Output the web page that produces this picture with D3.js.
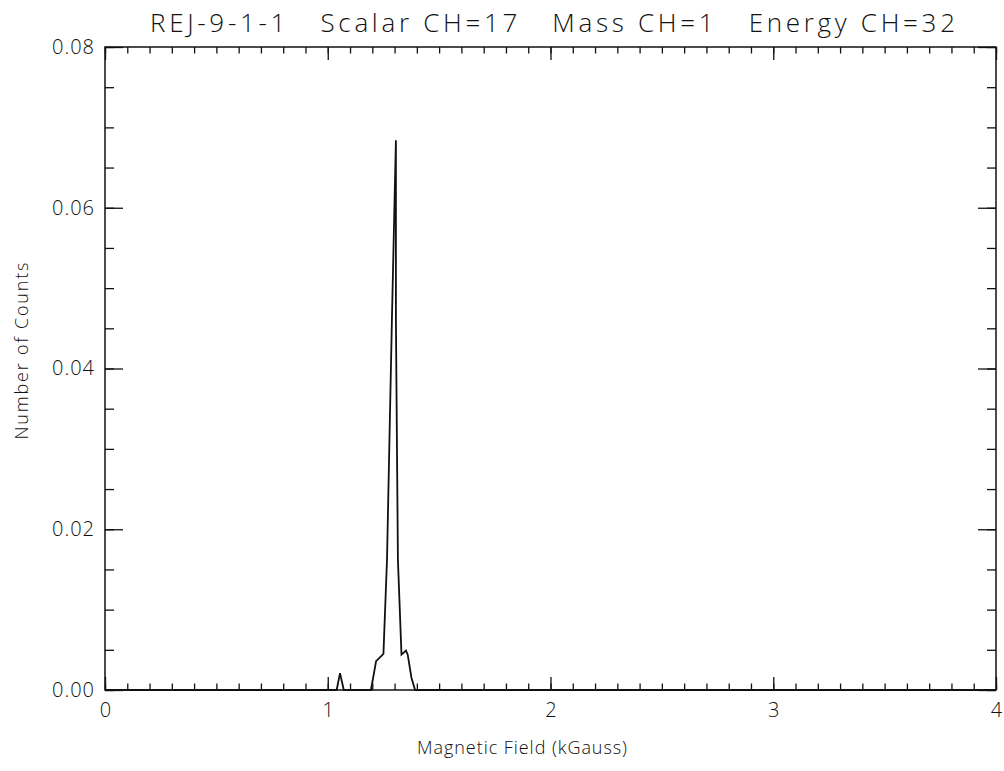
<!DOCTYPE html>
<html>
<head>
<meta charset="utf-8">
<script src="https://cdn.jsdelivr.net/npm/d3@7"></script>
<style>
  html, body { margin: 0; padding: 0; background: #fff; }
  svg { display: block; }
  text { font-family: "Open Sans", "DejaVu Sans", sans-serif; font-weight: 300; fill: #111; }
</style>
</head>
<body>
<svg id="chart" width="1004" height="771"></svg>
<script>
// ---- data ----
const titleText = "REJ-9-1-1   Scalar CH=17   Mass CH=1   Energy CH=32";
const xLabel = "Magnetic Field (kGauss)";
const yLabel = "Number of Counts";
const xTickValues = [0, 1, 2, 3, 4];
const yTickValues = [0.00, 0.02, 0.04, 0.06, 0.08];
const fieldKG = [0, 1.040, 1.055, 1.072, 1.194, 1.217, 1.250, 1.266, 1.288, 1.306,
                 1.306, 1.315, 1.331, 1.351, 1.359, 1.376, 1.392, 4];
const counts  = [0, 0, 0.0021, 0, 0, 0.0036, 0.0045, 0.0162, 0.046, 0.0684,
                 0.046, 0.0162, 0.0044, 0.0049, 0.0044, 0.0015, 0, 0];

// ---- layout ----
const svg = d3.select("#chart");
const L = 105, R = 996, T = 47, B = 690;
const x = d3.scaleLinear().domain([0, 4]).range([L, R]);
const y = d3.scaleLinear().domain([0, 0.08]).range([B, T]);

const xMinor = d3.range(0, 4.0001, 0.1).map(v => +v.toFixed(2));
const yMinor = d3.range(0, 0.08001, 0.005).map(v => +v.toFixed(4));

function styleAxis(g) {
  g.select(".domain").remove();
  g.selectAll(".tick line").attr("stroke", "#111").attr("stroke-width", 1.3);
}

// minor ticks
svg.append("g").attr("transform", `translate(0,${B})`)
  .call(d3.axisBottom(x).tickValues(xMinor).tickSize(-6.5).tickFormat(""))
  .call(styleAxis);
svg.append("g").attr("transform", `translate(0,${T})`)
  .call(d3.axisTop(x).tickValues(xMinor).tickSize(-6.5).tickFormat(""))
  .call(styleAxis);
svg.append("g").attr("transform", `translate(${L},0)`)
  .call(d3.axisLeft(y).tickValues(yMinor).tickSize(-9).tickFormat(""))
  .call(styleAxis);
svg.append("g").attr("transform", `translate(${R},0)`)
  .call(d3.axisRight(y).tickValues(yMinor).tickSize(-9).tickFormat(""))
  .call(styleAxis);

// major ticks + labels
const gxb = svg.append("g").attr("transform", `translate(0,${B})`)
  .call(d3.axisBottom(x).tickValues(xTickValues).tickSize(-13).tickPadding(13).tickFormat(d3.format("d")))
  .call(styleAxis);
svg.append("g").attr("transform", `translate(0,${T})`)
  .call(d3.axisTop(x).tickValues(xTickValues).tickSize(-13).tickFormat(""))
  .call(styleAxis);
const gyl = svg.append("g").attr("transform", `translate(${L},0)`)
  .call(d3.axisLeft(y).tickValues(yTickValues).tickSize(-18).tickPadding(10).tickFormat(d3.format(".2f")))
  .call(styleAxis);
svg.append("g").attr("transform", `translate(${R},0)`)
  .call(d3.axisRight(y).tickValues(yTickValues).tickSize(-18).tickFormat(""))
  .call(styleAxis);

svg.selectAll(".tick text")
  .attr("font-family", "Open Sans, DejaVu Sans, sans-serif")
  .attr("font-weight", 300)
  .attr("font-size", 20).attr("fill", "#111");
gyl.selectAll(".tick text").attr("letter-spacing", 1);

// frame
svg.append("rect").attr("x", L).attr("y", T).attr("width", R - L).attr("height", B - T)
  .attr("fill", "none").attr("stroke", "#111").attr("stroke-width", 1.5);

// data line
const line = d3.line().x((d, i) => x(fieldKG[i])).y((d, i) => y(counts[i]));
svg.append("path").datum(counts).attr("d", line)
  .attr("fill", "none").attr("stroke", "#111").attr("stroke-width", 1.8)
  .attr("stroke-linejoin", "miter");

// title
svg.append("text").attr("x", 150).attr("y", 32)
  .attr("xml:space", "preserve").style("white-space", "pre")
  .attr("font-size", 26).attr("textLength", 805).attr("lengthAdjust", "spacing")
  .text(titleText);

// axis titles
svg.append("text").attr("x", 417).attr("y", 754)
  .attr("font-size", 18).attr("textLength", 210).attr("lengthAdjust", "spacing")
  .text(xLabel);
svg.append("text").attr("transform", "translate(28,351) rotate(-90)")
  .attr("text-anchor", "middle")
  .attr("font-size", 18).attr("textLength", 177).attr("lengthAdjust", "spacing")
  .text(yLabel);
</script>
</body>
</html>
